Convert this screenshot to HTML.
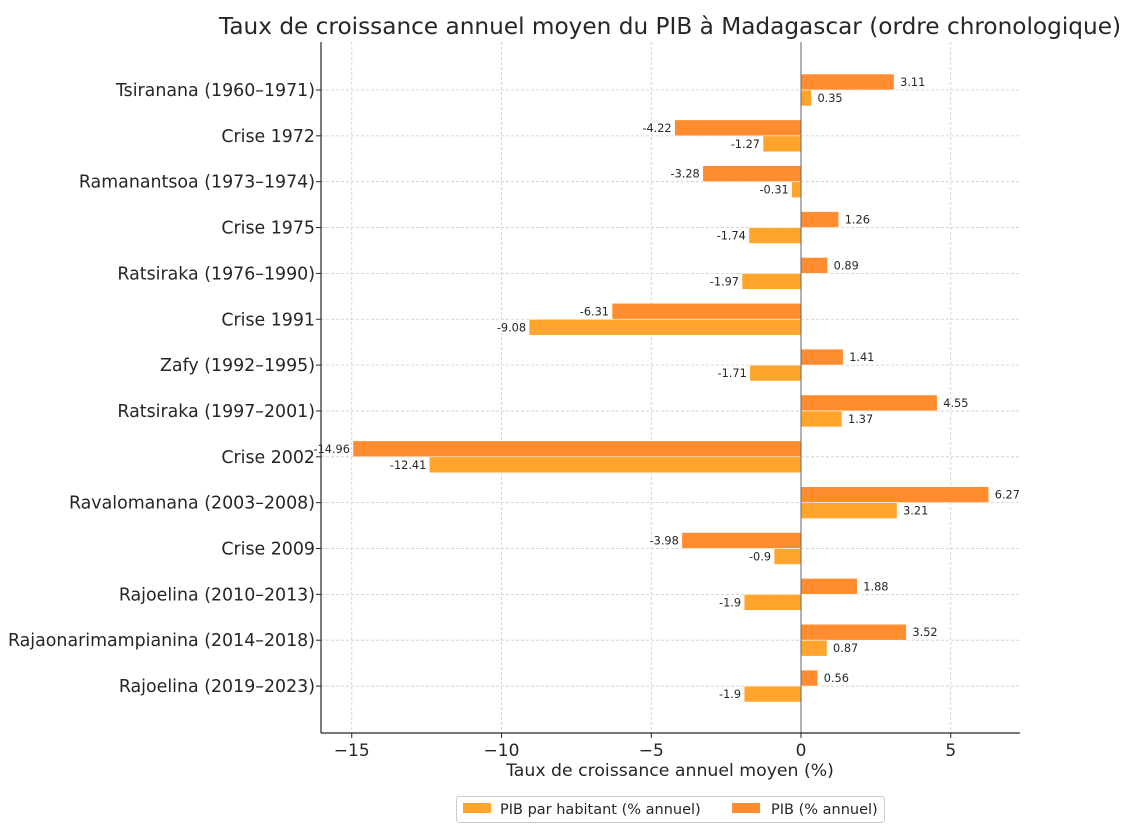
<!DOCTYPE html>
<html><head><meta charset="utf-8"><style>
html,body{margin:0;padding:0;background:#fff;}
svg{display:block;font-family:"DejaVu Sans","Liberation Sans",sans-serif;}
</style></head><body>
<svg id="s" width="1138" height="830" xmlns="http://www.w3.org/2000/svg">
<text x="670" y="34" font-size="23.2" text-anchor="middle" fill="#262626">Taux de croissance annuel moyen du PIB à Madagascar (ordre chronologique)</text>
<g id="g"></g>
<line x1="321" y1="42" x2="321" y2="733" stroke="#262626" stroke-width="1.2"/>
<line x1="321" y1="733" x2="1020" y2="733" stroke="#262626" stroke-width="1.2"/>
<text x="670" y="776" font-size="17.3" text-anchor="middle" fill="#262626">Taux de croissance annuel moyen (%)</text>
<rect x="456.5" y="796.5" width="428" height="26" rx="3" fill="#fff" stroke="#ccc"/>
<rect x="463" y="803" width="28" height="10" fill="#ffa52e"/>
<text x="500" y="814" font-size="14.5" fill="#262626">PIB par habitant (% annuel)</text>
<rect x="732" y="803" width="28" height="10" fill="#ff8c2e"/>
<text x="771" y="814" font-size="14.5" fill="#262626">PIB (% annuel)</text>
</svg>
<script>
var d=[["Tsiranana (1960–1971)",3.11,0.35],["Crise 1972",-4.22,-1.27],["Ramanantsoa (1973–1974)",-3.28,-0.31],["Crise 1975",1.26,-1.74],["Ratsiraka (1976–1990)",0.89,-1.97],["Crise 1991",-6.31,-9.08],["Zafy (1992–1995)",1.41,-1.71],["Ratsiraka (1997–2001)",4.55,1.37],["Crise 2002",-14.96,-12.41],["Ravalomanana (2003–2008)",6.27,3.21],["Crise 2009",-3.98,-0.9],["Rajoelina (2010–2013)",1.88,-1.9],["Rajaonarimampianina (2014–2018)",3.52,0.87],["Rajoelina (2019–2023)",0.56,-1.9]];
var s="",X0=801,K=29.95;
function X(v){return X0+v*K;}
[-15,-10,-5,0,5].forEach(function(t){var x=X(t);
s+='<line x1="'+x+'" y1="42" x2="'+x+'" y2="733" stroke="#ccc" stroke-dasharray="3,2" stroke-width="0.8"/>';
s+='<line x1="'+x+'" y1="733" x2="'+x+'" y2="738" stroke="#262626"/>';
s+='<text x="'+x+'" y="756" font-size="17" text-anchor="middle" fill="#262626">'+(t<0?'−'+(-t):t)+'</text>';});
d.forEach(function(r,i){var y=90+i*45.85;
s+='<line x1="321" y1="'+y+'" x2="1020" y2="'+y+'" stroke="#ccc" stroke-dasharray="3,2" stroke-width="0.8"/>';
s+='<line x1="316" y1="'+y+'" x2="321" y2="'+y+'" stroke="#262626"/>';
s+='<text x="315" y="'+(y+6)+'" font-size="17.4" text-anchor="end" fill="#262626">'+r[0]+'</text>';});
d.forEach(function(r,i){var y=90+i*45.85;
[[r[1],y-16,"#ff8c2e"],[r[2],y,"#ffa52e"]].forEach(function(b){var v=b[0],x1=Math.min(X(0),X(v)),w=Math.abs(v)*K;
s+='<rect x="'+x1+'" y="'+b[1]+'" width="'+w+'" height="16" fill="'+b[2]+'" stroke="#fff" stroke-width="0.6"/>';
var ty=b[1]+12;
if(v>=0)s+='<text x="'+(X(v)+6)+'" y="'+ty+'" font-size="11.3" fill="#262626">'+v+'</text>';
else s+='<text x="'+(X(v)-3)+'" y="'+ty+'" font-size="11.3" text-anchor="end" fill="#262626" stroke="#fff" stroke-width="3" paint-order="stroke">'+v+'</text>';});});
s+='<line x1="801" y1="42" x2="801" y2="733" stroke="#666" stroke-width="1"/>';
document.getElementById("g").innerHTML=s;
</script>
</body></html>
